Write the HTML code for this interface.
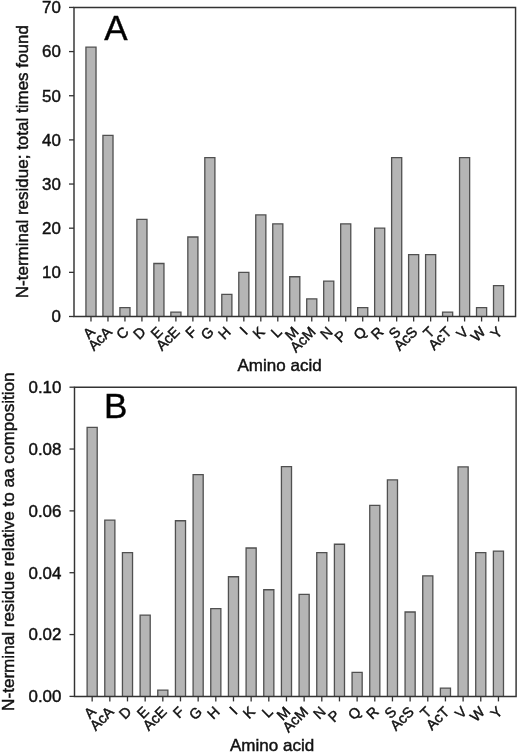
<!DOCTYPE html>
<html><head><meta charset="utf-8"><title>Figure</title>
<style>
html,body{margin:0;padding:0;background:#fff;}
body{width:517px;height:753px;overflow:hidden;font-family:"Liberation Sans",sans-serif;}
svg{display:block;}
svg text{font-family:"Liberation Sans",sans-serif;stroke:#111;stroke-width:0.45px;}
svg{filter:blur(0.38px);}
</style></head><body>
<svg width="517" height="753" viewBox="0 0 517 753">
<rect width="517" height="753" fill="#fff"/>
<path d="M85.93 316.5 V47.17 H96.03 V316.5" fill="#b5b5b5" stroke="#505050" stroke-width="1.3"/>
<path d="M102.92 316.5 V135.47 H113.02 V316.5" fill="#b5b5b5" stroke="#505050" stroke-width="1.3"/>
<path d="M119.90 316.5 V307.67 H130.00 V316.5" fill="#b5b5b5" stroke="#505050" stroke-width="1.3"/>
<path d="M136.88 316.5 V219.36 H146.98 V316.5" fill="#b5b5b5" stroke="#505050" stroke-width="1.3"/>
<path d="M153.86 316.5 V263.52 H163.96 V316.5" fill="#b5b5b5" stroke="#505050" stroke-width="1.3"/>
<path d="M170.85 316.5 V312.08 H180.95 V316.5" fill="#b5b5b5" stroke="#505050" stroke-width="1.3"/>
<path d="M187.83 316.5 V237.02 H197.93 V316.5" fill="#b5b5b5" stroke="#505050" stroke-width="1.3"/>
<path d="M204.81 316.5 V157.55 H214.91 V316.5" fill="#b5b5b5" stroke="#505050" stroke-width="1.3"/>
<path d="M221.79 316.5 V294.42 H231.89 V316.5" fill="#b5b5b5" stroke="#505050" stroke-width="1.3"/>
<path d="M238.78 316.5 V272.35 H248.88 V316.5" fill="#b5b5b5" stroke="#505050" stroke-width="1.3"/>
<path d="M255.76 316.5 V214.95 H265.86 V316.5" fill="#b5b5b5" stroke="#505050" stroke-width="1.3"/>
<path d="M272.74 316.5 V223.78 H282.84 V316.5" fill="#b5b5b5" stroke="#505050" stroke-width="1.3"/>
<path d="M289.72 316.5 V276.76 H299.82 V316.5" fill="#b5b5b5" stroke="#505050" stroke-width="1.3"/>
<path d="M306.71 316.5 V298.84 H316.81 V316.5" fill="#b5b5b5" stroke="#505050" stroke-width="1.3"/>
<path d="M323.69 316.5 V281.18 H333.79 V316.5" fill="#b5b5b5" stroke="#505050" stroke-width="1.3"/>
<path d="M340.67 316.5 V223.78 H350.77 V316.5" fill="#b5b5b5" stroke="#505050" stroke-width="1.3"/>
<path d="M357.66 316.5 V307.67 H367.76 V316.5" fill="#b5b5b5" stroke="#505050" stroke-width="1.3"/>
<path d="M374.64 316.5 V228.19 H384.74 V316.5" fill="#b5b5b5" stroke="#505050" stroke-width="1.3"/>
<path d="M391.62 316.5 V157.55 H401.72 V316.5" fill="#b5b5b5" stroke="#505050" stroke-width="1.3"/>
<path d="M408.60 316.5 V254.69 H418.70 V316.5" fill="#b5b5b5" stroke="#505050" stroke-width="1.3"/>
<path d="M425.59 316.5 V254.69 H435.69 V316.5" fill="#b5b5b5" stroke="#505050" stroke-width="1.3"/>
<path d="M442.57 316.5 V312.08 H452.67 V316.5" fill="#b5b5b5" stroke="#505050" stroke-width="1.3"/>
<path d="M459.55 316.5 V157.55 H469.65 V316.5" fill="#b5b5b5" stroke="#505050" stroke-width="1.3"/>
<path d="M476.53 316.5 V307.67 H486.63 V316.5" fill="#b5b5b5" stroke="#505050" stroke-width="1.3"/>
<path d="M493.52 316.5 V285.59 H503.62 V316.5" fill="#b5b5b5" stroke="#505050" stroke-width="1.3"/>
<path d="M74.0 7.43 H515.55 V316.5 H74.0 Z" fill="none" stroke="#333" stroke-width="1.45"/>
<path d="M69.0 316.50 H74.0" stroke="#333" stroke-width="1.3"/>
<text x="60.90" y="322.30" font-size="16.9" text-anchor="end" fill="#111">0</text>
<path d="M69.0 272.35 H74.0" stroke="#333" stroke-width="1.3"/>
<text x="60.90" y="278.15" font-size="16.9" text-anchor="end" fill="#111">10</text>
<path d="M69.0 228.19 H74.0" stroke="#333" stroke-width="1.3"/>
<text x="60.90" y="233.99" font-size="16.9" text-anchor="end" fill="#111">20</text>
<path d="M69.0 184.04 H74.0" stroke="#333" stroke-width="1.3"/>
<text x="60.90" y="189.84" font-size="16.9" text-anchor="end" fill="#111">30</text>
<path d="M69.0 139.89 H74.0" stroke="#333" stroke-width="1.3"/>
<text x="60.90" y="145.69" font-size="16.9" text-anchor="end" fill="#111">40</text>
<path d="M69.0 95.74 H74.0" stroke="#333" stroke-width="1.3"/>
<text x="60.90" y="101.54" font-size="16.9" text-anchor="end" fill="#111">50</text>
<path d="M69.0 51.58 H74.0" stroke="#333" stroke-width="1.3"/>
<text x="60.90" y="57.38" font-size="16.9" text-anchor="end" fill="#111">60</text>
<path d="M69.0 7.43 H74.0" stroke="#333" stroke-width="1.3"/>
<text x="60.90" y="13.23" font-size="16.9" text-anchor="end" fill="#111">70</text>
<path d="M90.98 316.5 V321.5" stroke="#333" stroke-width="1.3"/>
<text transform="translate(95.78 332.80) rotate(-45)" font-size="14.5" text-anchor="end" fill="#111">A</text>
<path d="M107.97 316.5 V321.5" stroke="#333" stroke-width="1.3"/>
<text transform="translate(112.77 332.80) rotate(-45)" font-size="14.5" text-anchor="end" fill="#111">AcA</text>
<path d="M124.95 316.5 V321.5" stroke="#333" stroke-width="1.3"/>
<text transform="translate(129.75 332.80) rotate(-45)" font-size="14.5" text-anchor="end" fill="#111">C</text>
<path d="M141.93 316.5 V321.5" stroke="#333" stroke-width="1.3"/>
<text transform="translate(146.73 332.80) rotate(-45)" font-size="14.5" text-anchor="end" fill="#111">D</text>
<path d="M158.91 316.5 V321.5" stroke="#333" stroke-width="1.3"/>
<text transform="translate(163.71 332.80) rotate(-45)" font-size="14.5" text-anchor="end" fill="#111">E</text>
<path d="M175.90 316.5 V321.5" stroke="#333" stroke-width="1.3"/>
<text transform="translate(180.70 332.80) rotate(-45)" font-size="14.5" text-anchor="end" fill="#111">AcE</text>
<path d="M192.88 316.5 V321.5" stroke="#333" stroke-width="1.3"/>
<text transform="translate(197.68 332.80) rotate(-45)" font-size="14.5" text-anchor="end" fill="#111">F</text>
<path d="M209.86 316.5 V321.5" stroke="#333" stroke-width="1.3"/>
<text transform="translate(214.66 332.80) rotate(-45)" font-size="14.5" text-anchor="end" fill="#111">G</text>
<path d="M226.84 316.5 V321.5" stroke="#333" stroke-width="1.3"/>
<text transform="translate(231.64 332.80) rotate(-45)" font-size="14.5" text-anchor="end" fill="#111">H</text>
<path d="M243.83 316.5 V321.5" stroke="#333" stroke-width="1.3"/>
<text transform="translate(248.63 332.80) rotate(-45)" font-size="14.5" text-anchor="end" fill="#111">I</text>
<path d="M260.81 316.5 V321.5" stroke="#333" stroke-width="1.3"/>
<text transform="translate(265.61 332.80) rotate(-45)" font-size="14.5" text-anchor="end" fill="#111">K</text>
<path d="M277.79 316.5 V321.5" stroke="#333" stroke-width="1.3"/>
<text transform="translate(282.59 332.80) rotate(-45)" font-size="14.5" text-anchor="end" fill="#111">L</text>
<path d="M294.77 316.5 V321.5" stroke="#333" stroke-width="1.3"/>
<text transform="translate(299.57 332.80) rotate(-45)" font-size="14.5" text-anchor="end" fill="#111">M</text>
<path d="M311.76 316.5 V321.5" stroke="#333" stroke-width="1.3"/>
<text transform="translate(316.56 332.80) rotate(-45)" font-size="14.5" text-anchor="end" fill="#111">AcM</text>
<path d="M328.74 316.5 V321.5" stroke="#333" stroke-width="1.3"/>
<text transform="translate(333.54 332.80) rotate(-45)" font-size="14.5" text-anchor="end" fill="#111">N</text>
<path d="M345.72 316.5 V321.5" stroke="#333" stroke-width="1.3"/>
<text transform="translate(347.22 336.30) rotate(-45)" font-size="14.5" text-anchor="end" fill="#111">P</text>
<path d="M362.71 316.5 V321.5" stroke="#333" stroke-width="1.3"/>
<text transform="translate(367.51 332.80) rotate(-45)" font-size="14.5" text-anchor="end" fill="#111">Q</text>
<path d="M379.69 316.5 V321.5" stroke="#333" stroke-width="1.3"/>
<text transform="translate(384.49 332.80) rotate(-45)" font-size="14.5" text-anchor="end" fill="#111">R</text>
<path d="M396.67 316.5 V321.5" stroke="#333" stroke-width="1.3"/>
<text transform="translate(401.47 332.80) rotate(-45)" font-size="14.5" text-anchor="end" fill="#111">S</text>
<path d="M413.65 316.5 V321.5" stroke="#333" stroke-width="1.3"/>
<text transform="translate(418.45 332.80) rotate(-45)" font-size="14.5" text-anchor="end" fill="#111">AcS</text>
<path d="M430.64 316.5 V321.5" stroke="#333" stroke-width="1.3"/>
<text transform="translate(435.44 332.80) rotate(-45)" font-size="14.5" text-anchor="end" fill="#111">T</text>
<path d="M447.62 316.5 V321.5" stroke="#333" stroke-width="1.3"/>
<text transform="translate(452.42 332.80) rotate(-45)" font-size="14.5" text-anchor="end" fill="#111">AcT</text>
<path d="M464.60 316.5 V321.5" stroke="#333" stroke-width="1.3"/>
<text transform="translate(469.40 332.80) rotate(-45)" font-size="14.5" text-anchor="end" fill="#111">V</text>
<path d="M481.58 316.5 V321.5" stroke="#333" stroke-width="1.3"/>
<text transform="translate(486.38 332.80) rotate(-45)" font-size="14.5" text-anchor="end" fill="#111">W</text>
<path d="M498.57 316.5 V321.5" stroke="#333" stroke-width="1.3"/>
<text transform="translate(503.37 332.80) rotate(-45)" font-size="14.5" text-anchor="end" fill="#111">Y</text>
<text x="104.2" y="40.0" font-size="35" fill="#000">A</text>
<text transform="translate(27.6 161.65) rotate(-90)" font-size="17" text-anchor="middle" fill="#111">N-terminal residue; total times found</text>
<text x="279.6" y="371.1" font-size="17" text-anchor="middle" fill="#111">Amino acid</text>
<path d="M87.11 696.4 V427.40 H97.21 V696.4" fill="#b5b5b5" stroke="#505050" stroke-width="1.3"/>
<path d="M104.78 696.4 V520.16 H114.88 V696.4" fill="#b5b5b5" stroke="#505050" stroke-width="1.3"/>
<path d="M122.44 696.4 V552.62 H132.54 V696.4" fill="#b5b5b5" stroke="#505050" stroke-width="1.3"/>
<path d="M140.11 696.4 V615.08 H150.21 V696.4" fill="#b5b5b5" stroke="#505050" stroke-width="1.3"/>
<path d="M157.77 696.4 V690.22 H167.87 V696.4" fill="#b5b5b5" stroke="#505050" stroke-width="1.3"/>
<path d="M175.43 696.4 V520.77 H185.53 V696.4" fill="#b5b5b5" stroke="#505050" stroke-width="1.3"/>
<path d="M193.10 696.4 V474.70 H203.20 V696.4" fill="#b5b5b5" stroke="#505050" stroke-width="1.3"/>
<path d="M210.76 696.4 V608.59 H220.86 V696.4" fill="#b5b5b5" stroke="#505050" stroke-width="1.3"/>
<path d="M228.43 696.4 V576.74 H238.53 V696.4" fill="#b5b5b5" stroke="#505050" stroke-width="1.3"/>
<path d="M246.09 696.4 V547.98 H256.19 V696.4" fill="#b5b5b5" stroke="#505050" stroke-width="1.3"/>
<path d="M263.75 696.4 V589.73 H273.85 V696.4" fill="#b5b5b5" stroke="#505050" stroke-width="1.3"/>
<path d="M281.42 696.4 V466.66 H291.52 V696.4" fill="#b5b5b5" stroke="#505050" stroke-width="1.3"/>
<path d="M299.08 696.4 V594.36 H309.18 V696.4" fill="#b5b5b5" stroke="#505050" stroke-width="1.3"/>
<path d="M316.75 696.4 V552.62 H326.85 V696.4" fill="#b5b5b5" stroke="#505050" stroke-width="1.3"/>
<path d="M334.41 696.4 V544.27 H344.51 V696.4" fill="#b5b5b5" stroke="#505050" stroke-width="1.3"/>
<path d="M352.07 696.4 V672.28 H362.17 V696.4" fill="#b5b5b5" stroke="#505050" stroke-width="1.3"/>
<path d="M369.74 696.4 V505.31 H379.84 V696.4" fill="#b5b5b5" stroke="#505050" stroke-width="1.3"/>
<path d="M387.40 696.4 V479.96 H397.50 V696.4" fill="#b5b5b5" stroke="#505050" stroke-width="1.3"/>
<path d="M405.07 696.4 V611.99 H415.17 V696.4" fill="#b5b5b5" stroke="#505050" stroke-width="1.3"/>
<path d="M422.73 696.4 V575.81 H432.83 V696.4" fill="#b5b5b5" stroke="#505050" stroke-width="1.3"/>
<path d="M440.39 696.4 V688.05 H450.49 V696.4" fill="#b5b5b5" stroke="#505050" stroke-width="1.3"/>
<path d="M458.06 696.4 V466.97 H468.16 V696.4" fill="#b5b5b5" stroke="#505050" stroke-width="1.3"/>
<path d="M475.72 696.4 V552.62 H485.82 V696.4" fill="#b5b5b5" stroke="#505050" stroke-width="1.3"/>
<path d="M493.39 696.4 V551.08 H503.49 V696.4" fill="#b5b5b5" stroke="#505050" stroke-width="1.3"/>
<path d="M74.5 387.2 H516.1 V696.4 H74.5 Z" fill="none" stroke="#333" stroke-width="1.45"/>
<path d="M69.5 696.40 H74.5" stroke="#333" stroke-width="1.3"/>
<text x="61.40" y="702.20" font-size="16.9" text-anchor="end" fill="#111">0.00</text>
<path d="M69.5 634.56 H74.5" stroke="#333" stroke-width="1.3"/>
<text x="61.40" y="640.36" font-size="16.9" text-anchor="end" fill="#111">0.02</text>
<path d="M69.5 572.72 H74.5" stroke="#333" stroke-width="1.3"/>
<text x="61.40" y="578.52" font-size="16.9" text-anchor="end" fill="#111">0.04</text>
<path d="M69.5 510.88 H74.5" stroke="#333" stroke-width="1.3"/>
<text x="61.40" y="516.68" font-size="16.9" text-anchor="end" fill="#111">0.06</text>
<path d="M69.5 449.04 H74.5" stroke="#333" stroke-width="1.3"/>
<text x="61.40" y="454.84" font-size="16.9" text-anchor="end" fill="#111">0.08</text>
<path d="M69.5 387.20 H74.5" stroke="#333" stroke-width="1.3"/>
<text x="61.40" y="393.00" font-size="16.9" text-anchor="end" fill="#111">0.10</text>
<path d="M92.16 696.4 V701.4" stroke="#333" stroke-width="1.3"/>
<text transform="translate(96.96 712.70) rotate(-45)" font-size="14.5" text-anchor="end" fill="#111">A</text>
<path d="M109.83 696.4 V701.4" stroke="#333" stroke-width="1.3"/>
<text transform="translate(114.63 712.70) rotate(-45)" font-size="14.5" text-anchor="end" fill="#111">AcA</text>
<path d="M127.49 696.4 V701.4" stroke="#333" stroke-width="1.3"/>
<text transform="translate(132.29 712.70) rotate(-45)" font-size="14.5" text-anchor="end" fill="#111">D</text>
<path d="M145.16 696.4 V701.4" stroke="#333" stroke-width="1.3"/>
<text transform="translate(149.96 712.70) rotate(-45)" font-size="14.5" text-anchor="end" fill="#111">E</text>
<path d="M162.82 696.4 V701.4" stroke="#333" stroke-width="1.3"/>
<text transform="translate(167.62 712.70) rotate(-45)" font-size="14.5" text-anchor="end" fill="#111">AcE</text>
<path d="M180.48 696.4 V701.4" stroke="#333" stroke-width="1.3"/>
<text transform="translate(185.28 712.70) rotate(-45)" font-size="14.5" text-anchor="end" fill="#111">F</text>
<path d="M198.15 696.4 V701.4" stroke="#333" stroke-width="1.3"/>
<text transform="translate(202.95 712.70) rotate(-45)" font-size="14.5" text-anchor="end" fill="#111">G</text>
<path d="M215.81 696.4 V701.4" stroke="#333" stroke-width="1.3"/>
<text transform="translate(220.61 712.70) rotate(-45)" font-size="14.5" text-anchor="end" fill="#111">H</text>
<path d="M233.48 696.4 V701.4" stroke="#333" stroke-width="1.3"/>
<text transform="translate(238.28 712.70) rotate(-45)" font-size="14.5" text-anchor="end" fill="#111">I</text>
<path d="M251.14 696.4 V701.4" stroke="#333" stroke-width="1.3"/>
<text transform="translate(255.94 712.70) rotate(-45)" font-size="14.5" text-anchor="end" fill="#111">K</text>
<path d="M268.80 696.4 V701.4" stroke="#333" stroke-width="1.3"/>
<text transform="translate(273.60 712.70) rotate(-45)" font-size="14.5" text-anchor="end" fill="#111">L</text>
<path d="M286.47 696.4 V701.4" stroke="#333" stroke-width="1.3"/>
<text transform="translate(291.27 712.70) rotate(-45)" font-size="14.5" text-anchor="end" fill="#111">M</text>
<path d="M304.13 696.4 V701.4" stroke="#333" stroke-width="1.3"/>
<text transform="translate(308.93 712.70) rotate(-45)" font-size="14.5" text-anchor="end" fill="#111">AcM</text>
<path d="M321.80 696.4 V701.4" stroke="#333" stroke-width="1.3"/>
<text transform="translate(326.60 712.70) rotate(-45)" font-size="14.5" text-anchor="end" fill="#111">N</text>
<path d="M339.46 696.4 V701.4" stroke="#333" stroke-width="1.3"/>
<text transform="translate(340.96 716.20) rotate(-45)" font-size="14.5" text-anchor="end" fill="#111">P</text>
<path d="M357.12 696.4 V701.4" stroke="#333" stroke-width="1.3"/>
<text transform="translate(361.92 712.70) rotate(-45)" font-size="14.5" text-anchor="end" fill="#111">Q</text>
<path d="M374.79 696.4 V701.4" stroke="#333" stroke-width="1.3"/>
<text transform="translate(379.59 712.70) rotate(-45)" font-size="14.5" text-anchor="end" fill="#111">R</text>
<path d="M392.45 696.4 V701.4" stroke="#333" stroke-width="1.3"/>
<text transform="translate(397.25 712.70) rotate(-45)" font-size="14.5" text-anchor="end" fill="#111">S</text>
<path d="M410.12 696.4 V701.4" stroke="#333" stroke-width="1.3"/>
<text transform="translate(414.92 712.70) rotate(-45)" font-size="14.5" text-anchor="end" fill="#111">AcS</text>
<path d="M427.78 696.4 V701.4" stroke="#333" stroke-width="1.3"/>
<text transform="translate(432.58 712.70) rotate(-45)" font-size="14.5" text-anchor="end" fill="#111">T</text>
<path d="M445.44 696.4 V701.4" stroke="#333" stroke-width="1.3"/>
<text transform="translate(450.24 712.70) rotate(-45)" font-size="14.5" text-anchor="end" fill="#111">AcT</text>
<path d="M463.11 696.4 V701.4" stroke="#333" stroke-width="1.3"/>
<text transform="translate(467.91 712.70) rotate(-45)" font-size="14.5" text-anchor="end" fill="#111">V</text>
<path d="M480.77 696.4 V701.4" stroke="#333" stroke-width="1.3"/>
<text transform="translate(485.57 712.70) rotate(-45)" font-size="14.5" text-anchor="end" fill="#111">W</text>
<path d="M498.44 696.4 V701.4" stroke="#333" stroke-width="1.3"/>
<text transform="translate(503.24 712.70) rotate(-45)" font-size="14.5" text-anchor="end" fill="#111">Y</text>
<text x="104.1" y="418.0" font-size="35" fill="#000">B</text>
<text transform="translate(14.0 541.65) rotate(-90)" font-size="17.12" text-anchor="middle" fill="#111">N-terminal residue relative to aa composition</text>
<text x="272.1" y="751.1" font-size="17" text-anchor="middle" fill="#111">Amino acid</text>
</svg>
</body></html>
